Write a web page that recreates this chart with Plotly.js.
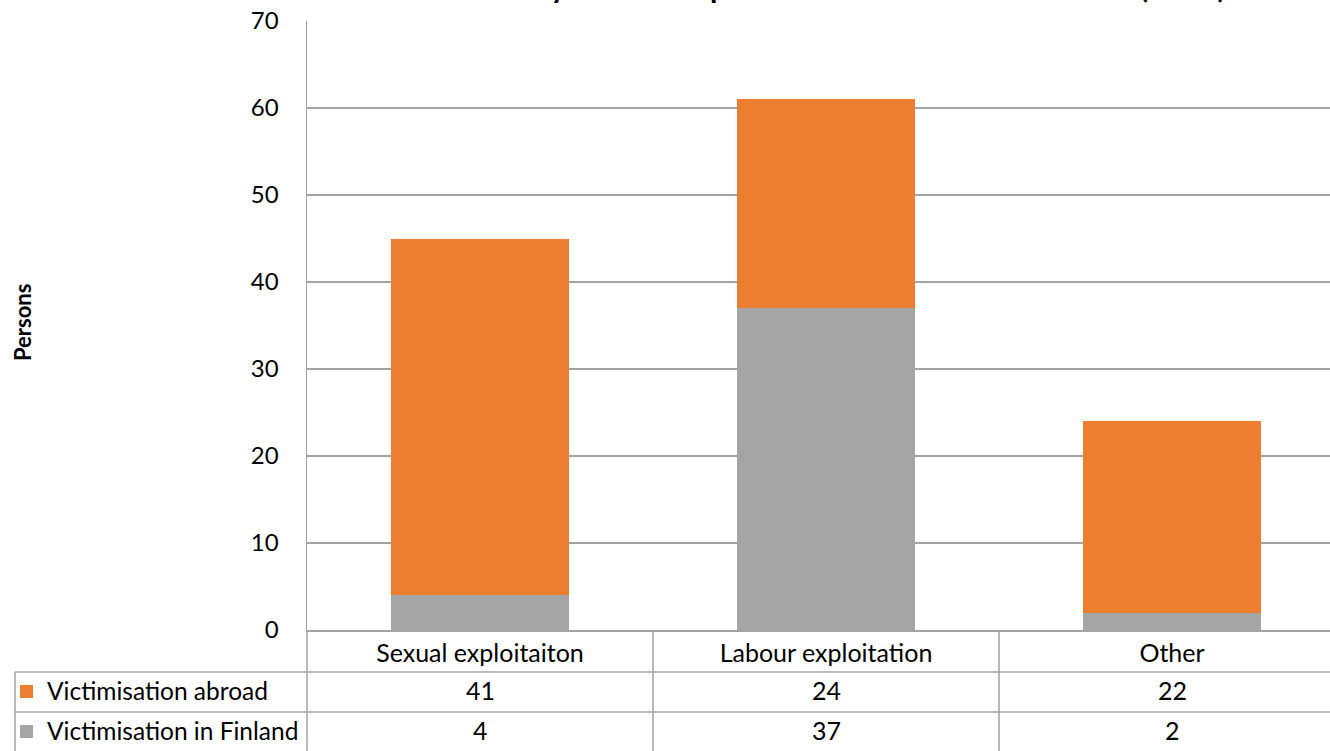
<!DOCTYPE html>
<html>
<head>
<meta charset="utf-8">
<script src="https://cdn.plot.ly/plotly-3.0.1.min.js"></script>
<style>
html,body{margin:0;padding:0;background:#fff;}
#chart{width:1330px;height:751px;}
</style>
</head>
<body>
<div id="chart"></div>
<script>
// ---- data ----
const categories = ['Sexual exploitaiton', 'Labour exploitation', 'Other'];
const seriesNames = ['Victimisation abroad', 'Victimisation in Finland'];
const abroadValues = [41, 24, 22];
const finlandValues = [4, 37, 2];
const yTickValues = [0, 10, 20, 30, 40, 50, 60, 70];
const chartTitle = 'Number of clients by form of exploitation in Finland and abroad (2015)';
const yTitle = 'Persons';

// ---- styles ----
const FONT = 'Lato, Carlito, Calibri, "Open Sans", sans-serif';
const ORANGE = '#ED7D31';
const GREY = '#A5A5A5';
const LINE = '#a3a3a3';

const W = 1330, H = 751;
const L = 307, T = 21, B = 121;
const plotW = W - L, plotH = H - T - B;
const px = v => (v - L) / plotW;          // pixel x -> paper x
const py = v => (H - B - v) / plotH;      // pixel y -> paper y

const catIdx = categories.map((c, i) => i);

const traces = [
  {type: 'bar', name: seriesNames[1], x: catIdx, y: finlandValues,
   marker: {color: GREY}, width: 0.514, hoverinfo: 'skip'},
  {type: 'bar', name: seriesNames[0], x: catIdx, y: abroadValues,
   marker: {color: ORANGE}, width: 0.514, hoverinfo: 'skip'}
];

const rowY = [py(690), py(730)];
const rowVals = [abroadValues, finlandValues];
const rowColors = [ORANGE, GREY];
const swatchTop = [685, 725];

const annotations = [];
const shapes = [];

// title (cropped at the top edge as in the reference)
annotations.push({
  text: '<b>' + chartTitle + '</b>', xref: 'paper', yref: 'paper',
  x: px(1228), y: 1, xanchor: 'right', yanchor: 'bottom', yshift: 15,
  showarrow: false, font: {family: FONT, size: 30, color: '#000'}
});
// y axis title
annotations.push({
  text: '<b>' + yTitle + '</b>', xref: 'paper', yref: 'paper',
  x: px(23), y: py(323), xanchor: 'center', yanchor: 'middle',
  textangle: -90, showarrow: false,
  font: {family: FONT, size: 22, color: '#000'}
});

// data table rows
rowVals.forEach((vals, r) => {
  annotations.push({
    text: seriesNames[r], xref: 'paper', yref: 'paper',
    x: px(45), y: rowY[r], xanchor: 'left', yanchor: 'middle',
    showarrow: false, font: {family: FONT, size: 24.5, color: '#000'}
  });
  shapes.push({type: 'rect', xref: 'paper', yref: 'paper',
    x0: px(20), x1: px(33), y0: py(swatchTop[r] + 13), y1: py(swatchTop[r]),
    fillcolor: rowColors[r], line: {width: 0}});
  vals.forEach((v, i) => {
    annotations.push({
      text: String(v), xref: 'x', yref: 'paper', x: catIdx[i], y: rowY[r],
      xanchor: 'center', yanchor: 'middle', showarrow: false,
      font: {family: FONT, size: 25, color: '#000'}
    });
  });
});

// table grid lines
const lineStyle = {color: LINE, width: 1.5};
[py(672), py(712)].forEach(y => shapes.push({type: 'line', xref: 'paper', yref: 'paper',
  x0: px(15), x1: 1, y0: y, y1: y, line: lineStyle}));
shapes.push({type: 'line', xref: 'paper', yref: 'paper', x0: 0, x1: 0, y0: py(751), y1: 0, line: lineStyle});
shapes.push({type: 'line', xref: 'paper', yref: 'paper', x0: px(15), x1: px(15), y0: py(751), y1: py(672), line: lineStyle});
for (let i = 0; i < categories.length - 1; i++) {
  shapes.push({type: 'line', xref: 'x', yref: 'paper', x0: i + 0.5, x1: i + 0.5,
    y0: py(751), y1: 0, line: lineStyle});
}

const layout = {
  width: W, height: H,
  margin: {l: L, r: 0, t: T, b: B, pad: 0},
  paper_bgcolor: '#fff', plot_bgcolor: '#fff',
  barmode: 'stack',
  showlegend: false,
  font: {family: FONT, size: 24, color: '#000'},
  xaxis: {
    type: 'linear',
    range: [-0.5, 2.4566],
    tickmode: 'array', tickvals: catIdx, ticktext: categories,
    showgrid: false, zeroline: false,
    showline: true, linecolor: LINE, linewidth: 1.5,
    ticks: '', ticklabelstandoff: 0,
    tickfont: {family: FONT, size: 25, color: '#000'}
  },
  yaxis: {
    range: [0, 70], tickmode: 'array', tickvals: yTickValues,
    showgrid: true, gridcolor: LINE, gridwidth: 1.3,
    zeroline: false, showline: true, linecolor: LINE, linewidth: 1.5,
    ticks: '', ticklabelstandoff: 22,
    tickfont: {family: FONT, size: 24, color: '#000'}
  },
  annotations: annotations,
  shapes: shapes
};

Plotly.newPlot('chart', traces, layout, {displayModeBar: false, staticPlot: true});
</script>
</body>
</html>
